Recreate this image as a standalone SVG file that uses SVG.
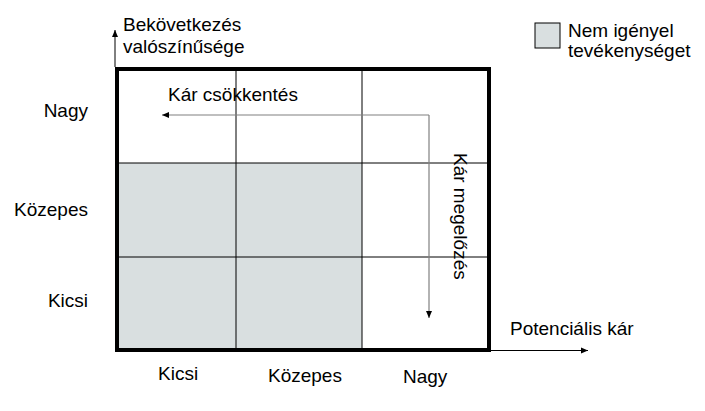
<svg xmlns="http://www.w3.org/2000/svg" width="705" height="411" viewBox="0 0 705 411">
<defs>
<style>
text{font-family:"Liberation Sans",Arial,sans-serif;font-size:19px;fill:#000}
.grid{stroke:#000;stroke-width:1;fill:none}
.shade{fill:#d9dfe0}
.ax{stroke:#000;stroke-width:1;fill:none}
.gr{stroke:#808080;stroke-width:1.2;fill:none}
</style>
<marker id="ah" markerWidth="8" markerHeight="8" refX="7" refY="4" orient="auto" markerUnits="userSpaceOnUse">
<path d="M0,1 L7,4 L0,7 Z" fill="#000"/>
</marker>
</defs>
<rect width="705" height="411" fill="#fff"/>
<g id="legend">
<rect x="535" y="23" width="25" height="25" class="shade" stroke="#000" stroke-width="1"/>
<text x="568" y="37">Nem igényel</text>
<text x="568" y="57">tevékenységet</text>
</g>
<g id="matrix">
<rect x="117" y="163" width="245" height="187" class="shade"/>
<line x1="236" y1="69" x2="236" y2="350" class="grid"/>
<line x1="362" y1="69" x2="362" y2="350" class="grid"/>
<line x1="117" y1="163" x2="488" y2="163" class="grid"/>
<line x1="117" y1="257" x2="488" y2="257" class="grid"/>
<rect x="117" y="69" width="372" height="281" fill="none" stroke="#000" stroke-width="4"/>
</g>
<g id="connectors">
<line x1="115" y1="67" x2="115" y2="30" class="ax" marker-end="url(#ah)"/>
<line x1="491" y1="350.5" x2="588" y2="350.5" class="ax" stroke="#555" marker-end="url(#ah)"/>
<line x1="429" y1="115" x2="162" y2="115" class="gr" marker-end="url(#ah)"/>
<line x1="429" y1="115" x2="429" y2="318" class="gr" marker-end="url(#ah)"/>
</g>
<g id="axis-labels">
<text x="123" y="31">Bekövetkezés</text>
<text x="123" y="53">valószínűsége</text>
<text x="510" y="335">Potenciális kár</text>
</g>
<g id="arrow-labels">
<text x="168" y="101">Kár csökkentés</text>
<text transform="translate(454,153) rotate(90)">Kár megelőzés</text>
</g>
<g id="row-labels">
<text x="88" y="117" text-anchor="end">Nagy</text>
<text x="88" y="216" text-anchor="end">Közepes</text>
<text x="88" y="307" text-anchor="end">Kicsi</text>
</g>
<g id="col-labels">
<text x="158" y="380">Kicsi</text>
<text x="268" y="382">Közepes</text>
<text x="403" y="383">Nagy</text>
</g>
</svg>
